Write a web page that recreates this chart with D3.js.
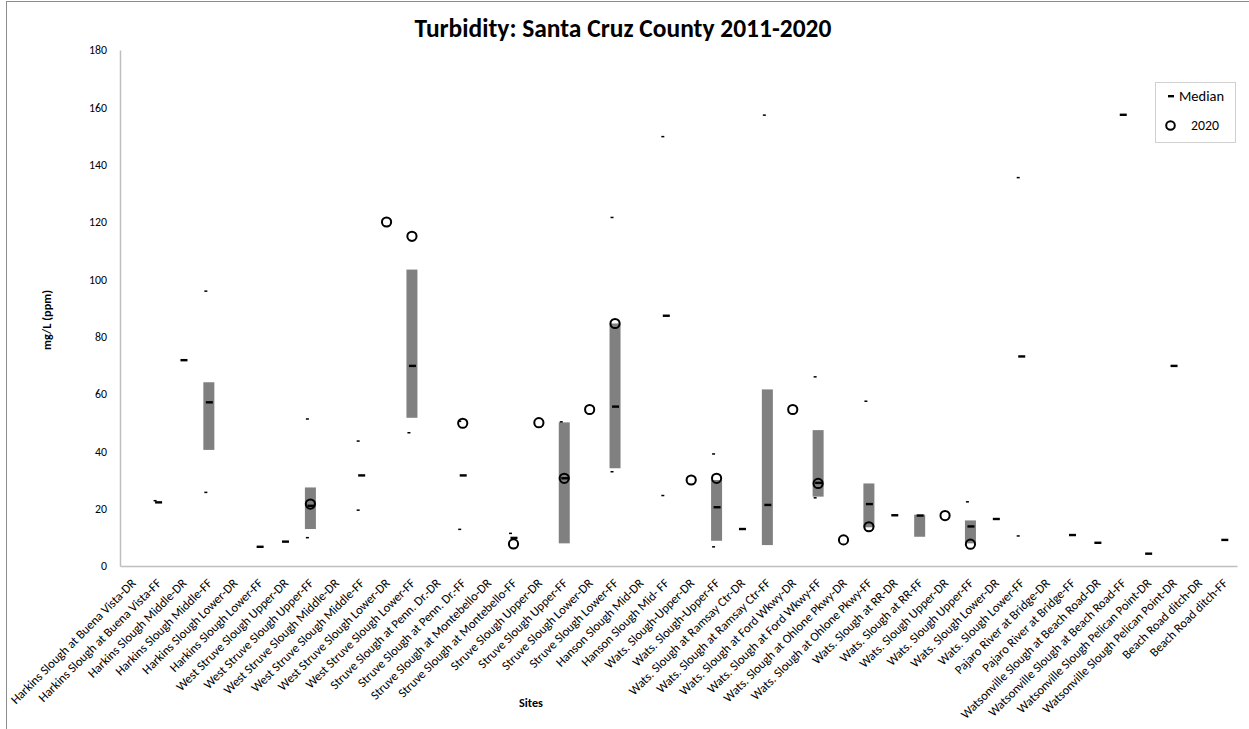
<!DOCTYPE html>
<html>
<head>
<meta charset="utf-8">
<script src="https://cdn.jsdelivr.net/npm/d3@7"></script>
<style>
  html, body { margin: 0; padding: 0; background: #fff; }
  svg { display: block; }
  text { font-family: Carlito, Calibri, Lato, "Liberation Sans", sans-serif; fill: #000; }
</style>
</head>
<body>
<svg id="chart" width="1249" height="729"></svg>
<script>
// ---------------- DATA ----------------
const sites = [
  "Harkins Slough at Buena Vista-DR", "Harkins Slough at Buena Vista-FF",
  "Harkins Slough Middle-DR", "Harkins Slough Middle-FF",
  "Harkins Slough Lower-DR", "Harkins Slough Lower-FF",
  "West Struve Slough Upper-DR", "West Struve Slough Upper-FF",
  "West Struve Slough Middle-DR", "West Struve Slough Middle-FF",
  "West Struve Slough Lower-DR", "West Struve Slough Lower-FF",
  "Struve Slough at Penn. Dr.-DR", "Struve Slough at Penn. Dr.-FF",
  "Struve Slough at Montebello-DR", "Struve Slough at Montebello-FF",
  "Struve Slough Upper-DR", "Struve Slough Upper-FF",
  "Struve Slough Lower-DR", "Struve Slough Lower-FF",
  "Hanson Slough Mid-DR", "Hanson Slough Mid- FF",
  "Wats. Slough-Upper-DR", "Wats. Slough-Upper-FF",
  "Wats. Slough at Ramsay Ctr-DR", "Wats. Slough at Ramsay Ctr-FF",
  "Wats. Slough at Ford Wkwy-DR", "Wats. Slough at Ford Wkwy-FF",
  "Wats. Slough at Ohlone Pkwy-DR", "Wats. Slough at Ohlone Pkwy-FF",
  "Wats. Slough at RR-DR", "Wats. Slough at RR-FF",
  "Wats. Slough Upper-DR", "Wats. Slough Upper-FF",
  "Wats. Slough Lower-DR", "Wats. Slough Lower-FF",
  "Pajaro River at Bridge-DR", "Pajaro River at Bridge-FF",
  "Watsonville Slough at Beach Road-DR", "Watsonville Slough at Beach Road-FF",
  "Watsonville Slough Pelican Point-DR", "Watsonville Slough Pelican Point-DR",
  "Beach Road ditch-DR", "Beach Road ditch-FF"
];
const yTicks = [0, 20, 40, 60, 80, 100, 120, 140, 160, 180];

// Median per site
const median = [null, 22.2, 71.8, 57.1, null, 6.7, 8.5, 21.0, null, 31.6,
  null, 69.8, null, 31.6, null, 9.8, null, 30.6, null, 55.6,
  null, 87.3, null, 20.5, 12.9, 21.3, null, 29.0, null, 21.6,
  17.7, 17.6, null, 13.8, 16.4, 73.1, null, 10.8, 8.1, 157.4,
  4.3, 69.8, null, 9.1];
// Gray range bar: lower and upper quartile
const q1 = [null, null, null, 40.5, null, null, null, 12.9, null, null,
  null, 51.7, null, null, null, null, null, 7.9, null, 34.1,
  null, null, null, 8.8, null, 7.3, null, 24.2, null, 13.5,
  null, 10.2, null, 7.9, null, null, null, null, null, null,
  null, null, null, null];
const q3 = [null, null, null, 64.1, null, null, null, 27.4, null, null,
  null, 103.4, null, null, null, null, null, 50.1, null, 84.6,
  null, null, null, 30.0, null, 61.6, null, 47.4, null, 28.8,
  null, 17.9, null, 15.9, null, null, null, null, null, null,
  null, null, null, null];
// Low / high marks
const lowMark = [null, null, null, 25.7, null, null, null, 9.9, null, 19.5,
  null, 46.5, null, 12.8, null, null, null, null, null, 32.9,
  null, 24.6, null, 6.7, null, null, null, 23.8, null, null,
  null, null, null, null, null, 10.5, null, null, null, null,
  null, null, null, null];
const highMark = [null, 22.8, null, 95.9, null, null, null, 51.3, null, 43.6,
  null, null, null, 50.5, null, 11.4, null, 50.3, null, 121.6,
  null, 149.8, null, 39.1, null, 157.3, null, 66.0, null, 57.5,
  null, null, null, 22.4, null, 135.5, null, null, null, null,
  null, null, null, null];
// 2020 value
const v2020 = [null, null, null, null, null, null, null, 21.6, null, null,
  120.0, 115.0, null, 49.8, null, 7.7, 50.0, 30.6, 54.6, 84.6,
  null, null, 30.0, 30.6, null, null, 54.6, 28.8, 9.1, 13.7,
  null, null, 17.6, 7.6, null, null, null, null, null, null,
  null, null, null, null];

// ---------------- CHART ----------------
const svg = d3.select("#chart");
const W = 1249, H = 729;
const plot = { left: 120, right: 1237, top: 50, bottom: 566 };

// scale a text's font so that its rendered width hits a target
function fit(sel, target) {
  const node = sel.node();
  const base = parseFloat(sel.style("font-size"));
  const w = node.getComputedTextLength();
  const fs = base * target / w;
  sel.style("font-size", fs + "px");
  return fs;
}

// outer chart border
svg.append("rect").attr("x", 6.5).attr("y", 1.5).attr("width", W + 10).attr("height", H + 10)
  .attr("fill", "none").attr("stroke", "#8c8c8c").attr("stroke-width", 1);

const idx = d3.range(sites.length);
const x = d3.scaleBand().domain(idx).range([plot.left, plot.right]).padding(0);
const y = d3.scaleLinear().domain([0, 180]).range([plot.bottom, plot.top]);
const cx = i => x(i) + x.bandwidth() / 2;

// Title
const title = svg.append("text").attr("x", 623).attr("y", 37).attr("text-anchor", "middle")
  .style("font-size", "20px").style("font-weight", "bold")
  .text("Turbidity: Santa Cruz County 2011-2020");
fit(title, 417);

// Y axis
const yAxis = svg.append("g").attr("transform", `translate(${plot.left},0)`)
  .call(d3.axisLeft(y).tickValues(yTicks).tickSize(0).tickPadding(13).tickFormat(d3.format("d")));
yAxis.select(".domain").attr("stroke", "#bfbfbf").attr("stroke-width", 1.5);
const yt = yAxis.selectAll("text").style("font-size", "12px").attr("fill", "#000");
const yfs = fit(yAxis.selectAll("text").filter(d => d === 180), 18);
yt.style("font-size", yfs + "px");

// X axis
const xAxis = svg.append("g").attr("transform", `translate(0,${plot.bottom})`)
  .call(d3.axisBottom(x).tickSize(0).tickFormat(i => sites[i]));
xAxis.select(".domain").attr("stroke", "#bfbfbf").attr("stroke-width", 1.5);
const xt = xAxis.selectAll(".tick text")
  .style("font-size", "12px")
  .attr("fill", "#000")
  .attr("text-anchor", "end")
  .attr("dy", null).attr("y", null);
const xfs = fit(xAxis.selectAll(".tick text").filter(d => d === 0), 171);
xt.style("font-size", xfs + "px").attr("transform", "translate(4,18) rotate(-45)");

// axis titles
const yTitle = svg.append("text").attr("transform", "translate(51,320) rotate(-90)")
  .attr("text-anchor", "middle").style("font-size", "10.5px").style("font-weight", "bold")
  .text("mg/L (ppm)");
fit(yTitle, 60);
const xTitle = svg.append("text").attr("x", 531).attr("y", 707).attr("text-anchor", "middle")
  .style("font-size", "11px").style("font-weight", "bold").text("Sites");
fit(xTitle, 24);

// Range bars
const barW = 11;
svg.append("g").selectAll("rect").data(idx.filter(i => q1[i] != null)).join("rect")
  .attr("x", i => cx(i) - barW / 2).attr("width", barW)
  .attr("y", i => y(q3[i])).attr("height", i => y(q1[i]) - y(q3[i]))
  .attr("fill", "#808080");

// low/high marks (small dashes)
const smallMarks = [];
idx.forEach(i => {
  if (lowMark[i] != null) smallMarks.push({ i, v: lowMark[i] });
  if (highMark[i] != null) smallMarks.push({ i, v: highMark[i] });
});
svg.append("g").selectAll("rect").data(smallMarks).join("rect")
  .attr("x", d => cx(d.i) - 4.5).attr("width", 3)
  .attr("y", d => y(d.v) - 0.7).attr("height", 1.5).attr("fill", "#000");

// median dashes
svg.append("g").selectAll("rect").data(idx.filter(i => median[i] != null)).join("rect")
  .attr("x", i => cx(i) - 3).attr("width", 7)
  .attr("y", i => y(median[i]) - 1.2).attr("height", 2.4).attr("fill", "#000");

// 2020 circles
svg.append("g").selectAll("circle").data(idx.filter(i => v2020[i] != null)).join("circle")
  .attr("cx", i => cx(i)).attr("cy", i => y(v2020[i])).attr("r", 4.6)
  .attr("fill", "none").attr("stroke", "#000").attr("stroke-width", 2);

// Legend
const lg = svg.append("g");
lg.append("rect").attr("x", 1155.5).attr("y", 82.5).attr("width", 80).attr("height", 60)
  .attr("fill", "#fff").attr("stroke", "#d0d0d0");
lg.append("rect").attr("x", 1168).attr("y", 95).attr("width", 6).attr("height", 2.4).attr("fill", "#000");
const lt1 = lg.append("text").attr("x", 1179).attr("y", 101).style("font-size", "12px").text("Median");
fit(lt1, 45);
const lt2 = lg.append("text").attr("x", 1191).attr("y", 130).style("font-size", "12px").text("2020");
fit(lt2, 28);
lg.append("circle").attr("cx", 1170.5).attr("cy", 125.5).attr("r", 4.3)
  .attr("fill", "none").attr("stroke", "#000").attr("stroke-width", 2);
</script>
</body>
</html>
